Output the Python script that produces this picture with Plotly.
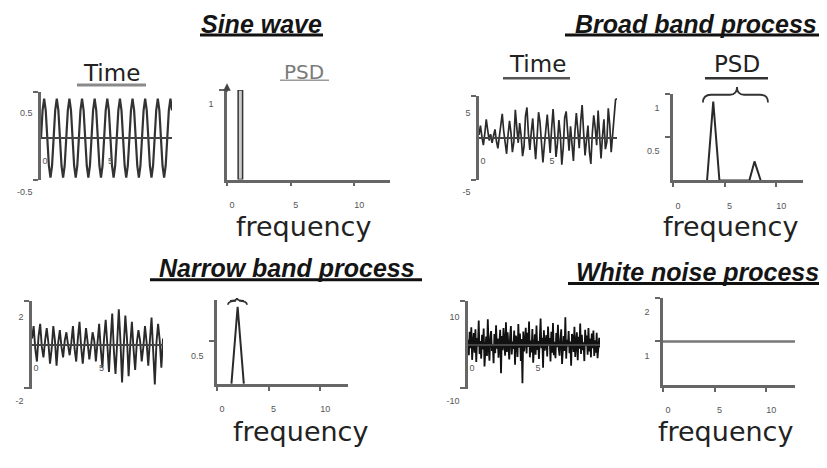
import numpy as np
import plotly.graph_objects as go

W, H = 827, 468
OFF = 8  # page body margin compensation (pixels)

# ---------------- data ----------------
sine_values = [
    0, 0.35, 0.5, 0.35, 0, -0.35, -0.5, -0.35,
    0, 0.35, 0.5, 0.35, 0, -0.35, -0.5, -0.35,
    0, 0.35, 0.5, 0.35, 0, -0.35, -0.5, -0.35,
    0, 0.35, 0.5, 0.35, 0, -0.35, -0.5, -0.35,
    0, 0.35, 0.5, 0.35, 0, -0.35, -0.5, -0.35,
    0, 0.35, 0.5, 0.35, 0, -0.35, -0.5, -0.35,
    0, 0.35, 0.5, 0.35, 0, -0.35, -0.5, -0.35,
    0, 0.35, 0.5, 0.35, 0, -0.35, -0.5, -0.35,
    0, 0.35, 0.5, 0.35, 0, -0.35, -0.5, -0.35,
    0, 0.35, 0.5, 0.35, 0, -0.35, -0.5, -0.35,
    0, 0.35, 0.5, 0.35,
]
broad_values = [
    0.4, 1.6, 0.2, -0.9, 0.6, 2.4, 1.0, -0.3, 0.5, -0.6, 0.3, 1.1, -0.4, -1.3, 0.2, 1.8,
    3.1, 0.9, -1.0, -2.0, 0.4, 2.2, 0.7, -1.8, -0.5, 3.6, 1.4, -0.6, 1.9, 0.3, -2.3, -1.1,
    2.8, 3.9, 0.6, -1.5, 0.8, 2.5, -0.4, -2.7, 0.1, 3.3, 2.0, -0.8, -3.1, -0.9, 1.7, 3.0,
    0.5, -1.9, 1.2, 3.7, 0.9, -2.4, -0.7, 2.3, 0.4, -3.4, -1.2, 2.6, 3.4, 0.2, -1.6, 1.5,
    -0.8, -2.9, 0.7, 3.2, 1.1, -1.3, 2.1, 4.2, 0.8, -2.2, -0.3, 1.6, -1.7, -3.3, 0.6, 2.9,
    1.3, -0.9, 3.5, 0.9, -2.6, 0.2, 2.4, -1.4, -0.5, 3.8, 1.7, -1.8, 0.4, 2.7, 4.9, 5.0,
]
narrow_values = [
    0.3, 0.9, -0.2, -0.8, 0.4, 1.0, -0.1, -0.6, 0.2, 0.8, 0.1, -0.9, -0.2, 0.9, 0.2, -1.0,
    0.1, 0.7, -0.1, -0.6, 0.2, 0.6, 0.0, -0.5, 0.1, 0.9, -0.2, -0.8, 0.3, 1.1, -0.1, -0.9,
    0.0, 0.8, 0.1, -0.7, -0.1, 0.6, 0.2, -0.8, 0.1, 1.0, -0.2, -1.1, 0.3, 1.2, 0.0, -1.3,
    0.2, 1.5, -0.3, -1.4, 0.1, 1.7, 0.2, -1.8, -0.1, 1.4, 0.3, -1.5, 0.0, 1.1, -0.2, -1.2,
    0.1, 0.7, 0.2, -0.8, -0.1, 0.9, 0.1, -1.0, 0.2, 1.3, -0.3, -1.9, 0.1, 1.0, 0.2, -1.1, 0.3,
]
white_values = [
    1.2, -2.5, 3.1, -0.8, 4.2, -3.6, 0.5, 2.8, -1.9, 3.7, -4.1, 1.6, -0.4, 5.8, -2.2, 0.9,
    -3.3, 2.4, -1.1, 3.9, -5.2, 1.3, 2.0, -2.7, 6.1, -0.6, -3.8, 1.8, 3.3, -1.5, 0.2, -4.4,
    2.6, -2.0, 4.7, -0.9, 1.5, -3.1, 0.7, 3.6, -6.8, 2.1, -1.3, 4.0, 0.4, -2.6, 5.4, -1.7,
    3.0, -0.3, -3.5, 1.9, 4.5, -2.3, 0.8, -1.0, 3.4, -4.8, 2.2, 1.1, -2.9, 5.0, -0.7, 2.7,
    -3.9, 1.4, -9.2, 3.2, -1.6, 0.6, 4.1, -2.1, 2.9, -0.5, 5.6, -3.0, 1.0, -1.8, 3.8, -4.3,
    0.3, 2.5, -2.4, 4.6, -1.2, 0.9, -3.4, 2.0, 6.3, -0.8, 1.7, -5.5, 3.5, -1.4, 0.1, 2.3,
    -2.8, 4.4, -0.2, 1.6, -4.0, 3.1, -1.9, 5.2, -2.5, 0.7, -3.2, 2.8, -0.6, 4.8, -1.1, -2.6,
    1.3, 3.7, -4.6, 0.5, 2.1, -1.5, 6.6, -3.3, 1.2, -0.4, 3.3, -2.0, 0.8, -5.0, 2.6, 1.8,
    -1.7, 4.3, -2.9, 0.4, 3.0, -3.7, 1.9, -0.9, 5.1, -2.2, 2.4, -1.3, 0.6, -3.9, 3.6, -0.1,
    2.2, -2.4, 4.0, -1.6, 1.5, -3.0, 2.7, -0.8, 3.4, -2.7, 1.1, -1.9, 2.9, -3.2, 0.5, 1.7, -0.6,
]
time_span = [0, 10]

sine_psd_freq = [1.05]
sine_psd_value = [1.0]
broad_psd_freq = [3.3, 3.9, 4.5, 7.4, 7.9, 8.5]
broad_psd_value = [0, 0.91, 0, 0, 0.22, 0]
narrow_psd_freq = [1.4, 2.0, 2.6]
narrow_psd_value = [0, 0.91, 0]
white_psd_freq = [0, 12.8]
white_psd_value = [1, 1]

time_tick_vals = [0, 5]
time_tick_text = ["0", "5"]
freq_tick_vals = [0, 5, 10]
freq_tick_text = ["0", "5", "10"]
sine_y_vals, sine_y_text = [0.5, -0.5], ["0.5", "-0.5"]
broad_y_vals, broad_y_text = [5, -5], ["5", "-5"]
narrow_y_vals, narrow_y_text = [2, -2], ["2", "-2"]
white_y_vals, white_y_text = [10, -10], ["10", "-10"]
sine_psd_y_vals, sine_psd_y_text = [1], ["1"]
broad_psd_y_vals, broad_psd_y_text = [1, 0.5], ["1", "0.5"]
narrow_psd_y_vals, narrow_psd_y_text = [1, 0.5], ["1", "0.5"]
white_psd_y_vals, white_psd_y_text = [2, 1], ["2", "1"]

titles = ["Sine wave", "Broad band process", "Narrow band process", "White noise process"]

# ---------------- layout helpers ----------------
def px(x):
    return (x - OFF) / W

def py(y):
    return 1 - (y - OFF) / H

AX = "#666666"
TICKFONT = dict(family="Liberation Sans, Arial", size=9, color="#555555")

fig = go.Figure()
layout = {}

# panels: (x0, x1, ytop, ybot, xrange, yrange, kind, ytickvals, yticktext)
panels = [
    (41, 172, 95, 187, [0, 10], [-0.537, 0.585], "time", sine_y_vals, sine_y_text),
    (227, 390, 93, 186, [0, 12.8], [0, 1.0], "psd", sine_psd_y_vals, sine_psd_y_text),
    (479, 617, 99, 187, [0, 10], [-5.4, 5.4], "time", broad_y_vals, broad_y_text),
    (673, 803, 97, 187, [0, 12.6], [0, 1.0], "psd", broad_psd_y_vals, broad_psd_y_text),
    (32, 163, 312, 403, [0, 10], [-2.1, 2.1], "time", narrow_y_vals, narrow_y_text),
    (217, 348, 311, 398, [0, 12.7], [0, 0.99], "psd", narrow_psd_y_vals, narrow_psd_y_text),
    (468, 600, 312, 403, [0, 10], [-10.5, 10.5], "time", white_y_vals, white_y_text),
    (663, 795, 309, 399, [0, 12.8], [0, 2.0], "psd", white_psd_y_vals, white_psd_y_text),
]

for i, (x0, x1, yt, yb, xr, yr, kind, yv, ytx) in enumerate(panels, start=1):
    xn = "xaxis" if i == 1 else f"xaxis{i}"
    yn = "yaxis" if i == 1 else f"yaxis{i}"
    xa = "x" if i == 1 else f"x{i}"
    ya = "y" if i == 1 else f"y{i}"
    ydom = [py(yb), py(yt)]
    span = yr[1] - yr[0]
    if kind == "time":
        zero_pos = ydom[0] + (0 - yr[0]) / span * (ydom[1] - ydom[0])
        layout[xn] = dict(
            domain=[px(x0), px(x1)], range=xr, anchor="free", position=zero_pos,
            showline=True, linecolor="#444444", linewidth=2, showgrid=False, zeroline=False,
            tickmode="array", tickvals=time_tick_vals, ticktext=time_tick_text,
            ticks="", ticklabelstandoff=14, ticklabelshift=4, tickfont=TICKFONT,
        )
        minor = dict(tickmode="array", tickvals=[yr[0] + 0.002 * span, yr[1] - 0.002 * span],
                     ticks="outside", ticklen=5, tickwidth=2, tickcolor=AX)
        layout[yn] = dict(
            domain=ydom, range=yr, anchor=xa, showline=True, linecolor=AX, linewidth=2.5,
            showgrid=False, zeroline=False, tickmode="array", tickvals=yv, ticktext=ytx,
            ticks="", ticklabelshift=14, ticklabelstandoff=4, tickfont=TICKFONT, minor=minor,
        )
    else:
        layout[xn] = dict(
            domain=[px(x0), px(x1)], range=xr, anchor=ya,
            showline=True, linecolor=AX, linewidth=2.5, showgrid=False, zeroline=False,
            tickmode="array", tickvals=freq_tick_vals, ticktext=freq_tick_text,
            ticks="outside", ticklen=4, tickwidth=2, tickcolor=AX,
            ticklabelstandoff=11, ticklabelshift=5, tickfont=TICKFONT,
        )
        layout[yn] = dict(
            domain=ydom, range=yr, anchor=xa, showline=True, linecolor=AX, linewidth=2.5,
            showgrid=False, zeroline=False, tickmode="array", tickvals=yv, ticktext=ytx,
            ticks="outside", ticklen=5, tickwidth=2, tickcolor=AX,
            ticklabelshift=14, ticklabelstandoff=4, tickfont=TICKFONT,
        )

def tgrid(vals):
    return np.linspace(time_span[0], time_span[1], len(vals))

LINE = "#2a2a2a"
fig.add_trace(go.Scatter(x=tgrid(sine_values), y=sine_values, mode="lines",
                         line=dict(color="#333333", width=2.2), xaxis="x", yaxis="y"))
fig.add_trace(go.Bar(x=sine_psd_freq, y=sine_psd_value, width=0.35,
                     marker=dict(color="#cccccc", line=dict(color="#333333", width=1.5)),
                     xaxis="x2", yaxis="y2"))
fig.add_trace(go.Scatter(x=tgrid(broad_values), y=broad_values, mode="lines",
                         line=dict(color=LINE, width=1.7), xaxis="x3", yaxis="y3"))
fig.add_trace(go.Scatter(x=broad_psd_freq, y=broad_psd_value, mode="lines",
                         line=dict(color=LINE, width=2), xaxis="x4", yaxis="y4"))
fig.add_trace(go.Scatter(x=tgrid(narrow_values), y=narrow_values, mode="lines",
                         line=dict(color=LINE, width=1.9), xaxis="x5", yaxis="y5"))
fig.add_trace(go.Scatter(x=narrow_psd_freq, y=narrow_psd_value, mode="lines",
                         line=dict(color=LINE, width=2), xaxis="x6", yaxis="y6"))
fig.add_trace(go.Scatter(x=tgrid(white_values), y=white_values, mode="lines",
                         line=dict(color="#111111", width=1.8), xaxis="x7", yaxis="y7"))
fig.add_trace(go.Scatter(x=white_psd_freq, y=white_psd_value, mode="lines",
                         line=dict(color="#777777", width=2.5), xaxis="x8", yaxis="y8"))

# ---------------- text ----------------
ann = []
TITLE_FONT = dict(family="Liberation Sans, Arial", size=25, color="#151515")
title_pos = [(262, 25), (696, 25), (287, 278), (697, 282)]
for t, (x, y) in zip(titles, title_pos):
    ann.append(dict(text=f"<b><i>{t}</i></b>", x=px(x), y=py(y), xref="paper", yref="paper",
                    showarrow=False, xanchor="center", yanchor="middle", font=TITLE_FONT))

heads = [("Time", 111, 75, 23, "#222222"), ("PSD", 304, 74, 20, "#7a7a7a"),
         ("Time", 537, 66, 23, "#222222"), ("PSD", 737, 66, 23, "#222222")]
for t, x, y, s, c in heads:
    ann.append(dict(text=t, x=px(x), y=py(y), xref="paper", yref="paper", showarrow=False,
                    xanchor="center", yanchor="middle",
                    font=dict(family="DejaVu Sans", size=s, color=c)))

for x, y in [(303, 235), (730, 235), (300, 447), (725, 447)]:
    ann.append(dict(text="frequency", x=px(x), y=py(y), xref="paper", yref="paper",
                    showarrow=False, xanchor="center", yanchor="middle",
                    font=dict(family="DejaVu Sans", size=27, color="#222222")))

# small arrow on the sine PSD axis
ann.append(dict(x=px(227), y=py(86), xref="paper", yref="paper", ax=0, ay=10,
                showarrow=True, arrowhead=2, arrowsize=1, arrowwidth=1.5, arrowcolor="#444444",
                text=""))

shapes = []
def hline(x0, x1, y, w, c):
    shapes.append(dict(type="line", xref="paper", yref="paper", x0=px(x0), x1=px(x1),
                       y0=py(y), y1=py(y), line=dict(color=c, width=w)))

hline(200, 323, 36, 3, "#111111")
hline(565, 824, 36, 3, "#111111")
hline(150, 422, 290, 3, "#111111")
hline(568, 827, 294, 3, "#111111")
hline(77, 146, 88, 3, "#8a8a8a")
hline(280, 329, 83, 1.5, "#9a9a9a")
hline(503, 570, 81, 2.5, "#555555")
hline(705, 768, 81, 2.5, "#333333")

def brace(xa, xb, xm, ybase, ytop, yend):
    p = (f"M {px(xa)},{py(yend)} Q {px(xa)},{py(ybase)} {px(xa+8)},{py(ybase)} "
         f"L {px(xm-7)},{py(ybase)} Q {px(xm)},{py(ybase)} {px(xm)},{py(ytop)} "
         f"Q {px(xm)},{py(ybase)} {px(xm+7)},{py(ybase)} "
         f"L {px(xb-8)},{py(ybase)} Q {px(xb)},{py(ybase)} {px(xb)},{py(yend)}")
    shapes.append(dict(type="path", xref="paper", yref="paper", path=p,
                       line=dict(color="#333333", width=1.8)))

brace(703, 768, 737, 98, 90, 106)
brace(228, 247, 237, 312, 309, 316)

fig.update_layout(
    width=W, height=H, margin=dict(l=0, r=0, t=0, b=0),
    paper_bgcolor="white", plot_bgcolor="white", showlegend=False,
    annotations=ann, shapes=shapes, **layout,
)
fig.write_html("out.html")
